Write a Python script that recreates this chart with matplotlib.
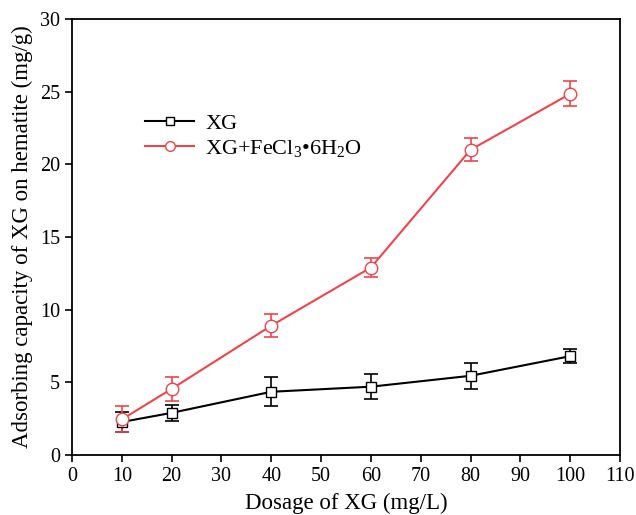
import matplotlib
matplotlib.use('Agg')
import matplotlib.pyplot as plt
from matplotlib.lines import Line2D

plt.rcParams['font.family'] = ['Liberation Serif', 'DejaVu Serif']
plt.rcParams['mathtext.fontset'] = 'custom'
plt.rcParams['mathtext.rm'] = 'Liberation Serif'
plt.rcParams['mathtext.it'] = 'Liberation Serif:italic'

dosage = [10, 20, 40, 60, 80, 100]
xg = [2.27, 2.9, 4.35, 4.7, 5.45, 6.8]
xg_err = [0.7, 0.55, 1.0, 0.85, 0.9, 0.5]
xg_fe = [2.45, 4.55, 8.9, 12.9, 21.0, 24.85]
xg_fe_err = [0.9, 0.85, 0.8, 0.65, 0.8, 0.85]

fig = plt.figure(figsize=(6.36, 5.15), dpi=100)
ax = fig.add_axes([72/636, 60/515, 548/636, 436/515])

red = '#f0444a'
ax.errorbar(dosage, xg, yerr=xg_err, color='black', marker='s', markersize=7.5,
            markerfacecolor='white', markeredgecolor='black', capsize=5,
            elinewidth=1.2, capthick=1.2, lw=1.5)
ax.errorbar(dosage, xg_fe, yerr=xg_fe_err, color=red, marker='o', markersize=9,
            markerfacecolor='white', markeredgecolor=red, capsize=5,
            elinewidth=1.2, capthick=1.2, lw=1.5)
# tiny center dots in markers
ax.plot(dosage, xg, ls='none', marker='.', markersize=1.5, color='black')
ax.plot(dosage, xg_fe, ls='none', marker='.', markersize=1.5, color=red)

ax.set_xlim(0, 110)
ax.set_ylim(0, 30)
ax.set_xticks(range(0, 111, 10))
ax.set_yticks(range(0, 31, 5))
ax.tick_params(direction='out', length=5, width=1.2, labelsize=14.5)
for s in ax.spines.values():
    s.set_linewidth(1.3)

ax.set_xlabel('Dosage of XG (mg/L)', fontsize=16.5, labelpad=5)
ax.set_ylabel('Adsorbing capacity of XG on hematite (mg/g)', fontsize=16.5, labelpad=5)

handles = [
    Line2D([], [], color='black', lw=1.5, marker='s', markersize=6,
           markerfacecolor='white', markeredgecolor='black'),
    Line2D([], [], color=red, lw=1.5, marker='o', markersize=7,
           markerfacecolor='white', markeredgecolor=red),
]
ax.legend(handles, ['XG', 'XG+FeCl$_3$\u20226H$_2$O'], loc='upper left',
          bbox_to_anchor=(0.097, 0.83), frameon=False, fontsize=16,
          handlelength=2.2, handletextpad=0.5, labelspacing=0.2)

fig.savefig('out.png', dpi=100)
